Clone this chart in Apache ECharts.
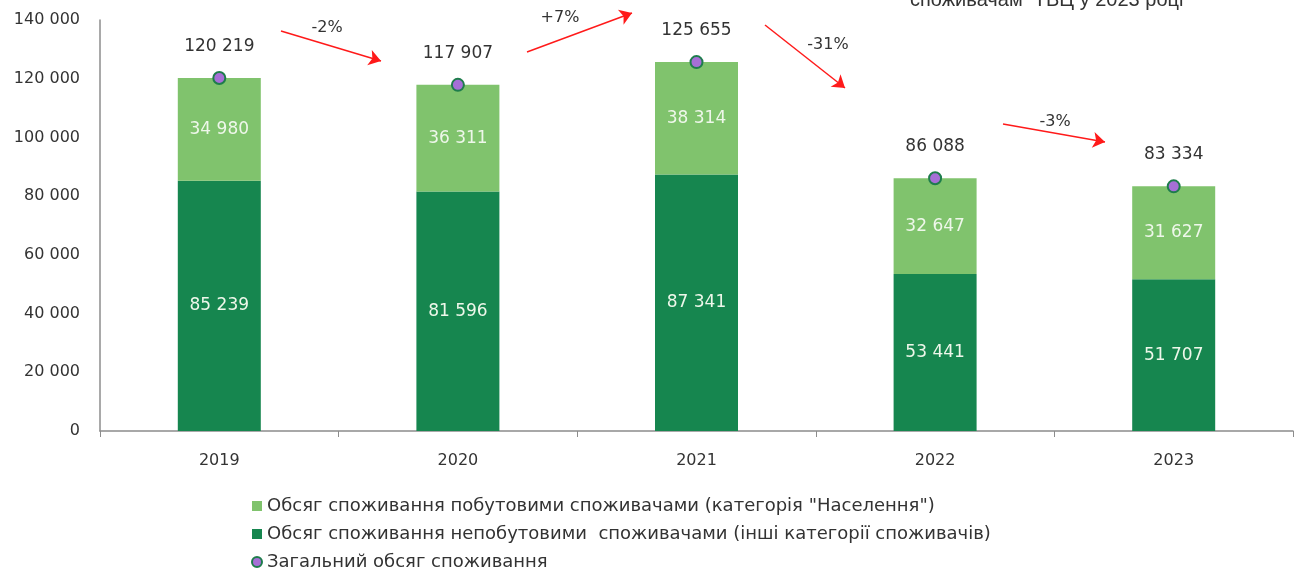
<!DOCTYPE html>
<html>
<head>
<meta charset="utf-8">
<script src="https://cdn.jsdelivr.net/npm/echarts@6/dist/echarts.min.js"></script>
<style>
  html, body { margin: 0; padding: 0; background: #fff; }
  #main { width: 1301px; height: 571px; }
</style>
</head>
<body>
<div id="main"></div>
<script>
var years = ['2019', '2020', '2021', '2022', '2023'];
var household = [34980, 36311, 38314, 32647, 31627];
var nonHousehold = [85239, 81596, 87341, 53441, 51707];
var total = [120219, 117907, 125655, 86088, 83334];
var changes = ['-2%', '+7%', '-31%', '-3%'];

function fmt(v) {
    return String(v).replace(/\B(?=(\d{3})+(?!\d))/g, ' ');
}

var font = 'DejaVu Sans';
var myChart = echarts.init(document.getElementById('main'));

// стрілки між роками (пікселі)
var arrows = [
    { from: [281, 31], to: [381, 61], text: [327, 28] },
    { from: [527, 52], to: [632, 13], text: [560, 18] },
    { from: [765, 25], to: [845, 88], text: [828, 45] },
    { from: [1003, 124], to: [1105, 142], text: [1055, 122] }
];

var graphics = [{
    type: 'text',
    left: 910,
    top: -10,
    style: { text: 'споживачам  ТВЦ у 2023 році', fill: '#333', font: '20px "Liberation Sans"' }
}];
arrows.forEach(function (a, i) {
    graphics.push({
        type: 'text',
        x: a.text[0],
        y: a.text[1],
        style: { text: changes[i], fill: '#333', font: '16px "' + font + '"', align: 'center', verticalAlign: 'middle' }
    });
});

var option = {
    animation: false,
    grid: { left: 100, right: 8, top: 20, bottom: 140 },
    legend: {
        orient: 'vertical',
        left: 246,
        top: 492,
        height: 120,
        itemWidth: 10,
        itemHeight: 10,
        itemGap: 10,
        textStyle: { fontFamily: font, fontSize: 18, color: '#333' },
        data: [
            { name: 'Обсяг споживання побутовими споживачами (категорія "Населення")', icon: 'rect' },
            { name: 'Обсяг споживання непобутовими  споживачами (інші категорії споживачів)', icon: 'rect' },
            { name: 'Загальний обсяг споживання', icon: 'circle' }
        ]
    },
    xAxis: {
        type: 'category',
        data: years,
        axisLine: { lineStyle: { color: '#8c8c8c', width: 1.5 } },
        axisTick: { show: true, length: 6, lineStyle: { color: '#8c8c8c' } },
        axisLabel: { fontFamily: font, fontSize: 16, color: '#333', margin: 22 }
    },
    yAxis: {
        type: 'value',
        min: 0,
        max: 140000,
        interval: 20000,
        splitLine: { show: false },
        axisLine: { show: true, lineStyle: { color: '#8c8c8c', width: 1.5 } },
        axisTick: { show: false },
        axisLabel: { fontFamily: font, fontSize: 16, color: '#333', margin: 20, formatter: fmt }
    },
    series: [
        {
            name: 'Обсяг споживання непобутовими  споживачами (інші категорії споживачів)',
            type: 'bar',
            stack: 'v',
            barWidth: 83,
            data: nonHousehold,
            itemStyle: { color: '#16864f' },
            label: { show: true, position: 'inside', color: '#eef7ea', fontFamily: font, fontSize: 17, formatter: function (p) { return fmt(p.value); } }
        },
        {
            name: 'Обсяг споживання побутовими споживачами (категорія "Населення")',
            type: 'bar',
            stack: 'v',
            data: household,
            itemStyle: { color: '#80c36d' },
            label: { show: true, position: 'inside', color: '#eef7ea', fontFamily: font, fontSize: 17, formatter: function (p) { return fmt(p.value); } }
        },
        {
            name: 'Загальний обсяг споживання',
            type: 'scatter',
            data: total,
            symbolSize: 12,
            z: 5,
            itemStyle: { color: '#a66fd6', borderColor: '#1e7d4c', borderWidth: 2, opacity: 1 },
            label: { show: true, position: 'top', distance: 16, color: '#333', fontFamily: font, fontSize: 17, formatter: function (p) { return fmt(p.value); } },
            markLine: {
                silent: true,
                symbol: ['none', 'arrow'],
                symbolSize: 12,
                label: { show: false },
                lineStyle: { color: '#ff1a1a', width: 1.5, type: 'solid' },
                data: arrows.map(function (a) {
                    return [{ x: a.from[0], y: a.from[1] }, { x: a.to[0], y: a.to[1] }];
                })
            }
        }
    ],
    graphic: graphics
};

myChart.setOption(option);
</script>
</body>
</html>
